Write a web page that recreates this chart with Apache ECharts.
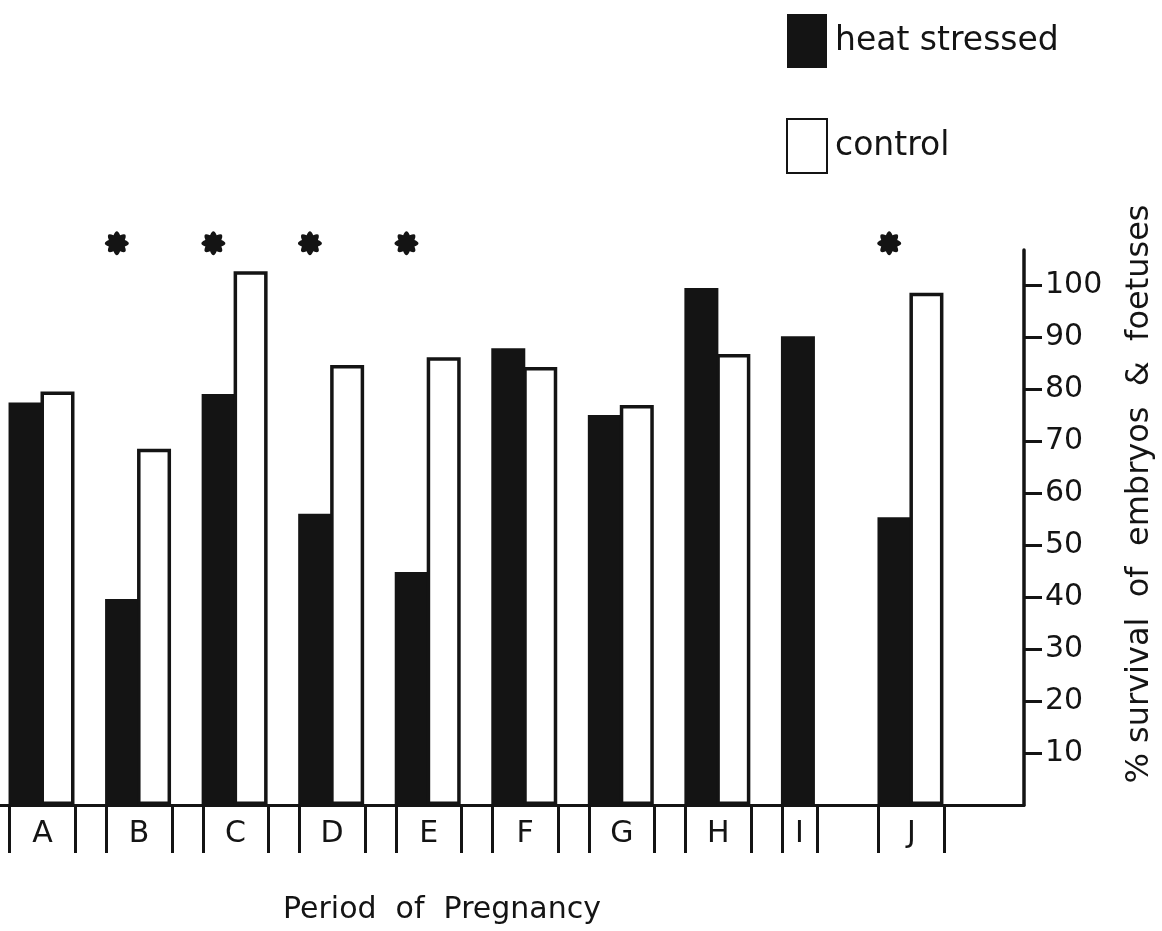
<!DOCTYPE html>
<html>
<head>
<meta charset="utf-8">
<script src="https://cdn.jsdelivr.net/npm/echarts@6/dist/echarts.min.js"></script>
<style>
  html, body { margin: 0; padding: 0; background: #ffffff; }
  #chart { width: 1162px; height: 931px; }
</style>
</head>
<body>
<div id="chart"></div>
<script>
// Survival of embryos and foetuses, heat stressed vs control, by period of pregnancy
const periods = ['A', 'B', 'C', 'D', 'E', 'F', 'G', 'H', 'I', 'J'];
const heatStressed = [77.4, 39.6, 79.0, 56.0, 44.8, 87.8, 75.0, 99.4, 90.1, 55.3];
const control = [79.5, 68.5, 102.6, 84.6, 86.1, 84.2, 76.9, 86.7, null, 98.5];
const significant = [false, true, true, true, true, false, false, false, false, true];
const yTicks = [10, 20, 30, 40, 50, 60, 70, 80, 90, 100];

const INK = '#141414';
const FONT = 'DejaVu Sans';

// each period is bracketed by two short rules below the baseline
const bracketLo = -0.33;
const bracketHi = i => (control[i] == null ? 0.03 : 0.35);
const bracketTicks = [];
const labelPos = [];
periods.forEach((p, i) => {
  bracketTicks.push(i + bracketLo, i + bracketHi(i));
  labelPos.push(i + (bracketLo + bracketHi(i)) / 2);
});

// eight-lobed asterisk used to flag significant differences
function asteriskPath() {
  let d = '';
  const n = 8;
  for (let k = 0; k < n; k++) {
    const a0 = (k * 2 * Math.PI) / n - Math.PI / 2;
    const a1 = a0 + Math.PI / n;
    const ri = 0.62;
    const ix = (Math.cos(a0 - Math.PI / n) * ri).toFixed(3);
    const iy = (Math.sin(a0 - Math.PI / n) * ri).toFixed(3);
    const ox = (Math.cos(a0) * 1.15).toFixed(3);
    const oy = (Math.sin(a0) * 1.15).toFixed(3);
    const jx = (Math.cos(a1) * ri).toFixed(3);
    const jy = (Math.sin(a1) * ri).toFixed(3);
    d += (k === 0 ? 'M' + ix + ' ' + iy + ' ' : '') + 'Q' + ox + ' ' + oy + ' ' + jx + ' ' + jy + ' ';
  }
  return 'path://' + d + 'Z';
}
const starLevel = 108;
const starOffset = -0.22;

const chart = echarts.init(document.getElementById('chart'), null, { renderer: 'canvas' });

chart.setOption({
  backgroundColor: '#ffffff',
  animation: false,
  textStyle: { fontFamily: FONT, color: INK },
  grid: {
    left: 0, right: 138, top: 250, bottom: 126,
    containLabel: false,
    outerBoundsMode: 'none'
  },
  legend: {
    orient: 'vertical',
    left: 781,
    top: 9,
    itemWidth: 40,
    itemHeight: 54,
    itemGap: 50,
    icon: 'rect',
    selectedMode: false,
    data: ['heat stressed', 'control'],
    textStyle: { fontSize: 33, color: INK, fontFamily: FONT, padding: [0, 0, 0, 3] }
  },
  xAxis: {
    type: 'value',
    min: -0.43,
    max: 10.176,
    position: 'bottom',
    axisLine: { show: true, onZero: false, lineStyle: { color: INK, width: 3 } },
    axisTick: {
      show: true, inside: false, length: 48,
      customValues: bracketTicks,
      lineStyle: { color: INK, width: 3 }
    },
    axisLabel: {
      show: true,
      customValues: labelPos,
      formatter: v => periods[Math.round(v)] || '',
      fontSize: 30, margin: 14, color: INK, fontFamily: FONT
    },
    splitLine: { show: false }
  },
  yAxis: {
    type: 'value',
    position: 'right',
    min: 0,
    max: 106.7,
    axisLine: { show: true, onZero: false, lineStyle: { color: INK, width: 3.5 } },
    axisTick: {
      show: true, inside: false, length: 18,
      customValues: yTicks,
      lineStyle: { color: INK, width: 3 }
    },
    axisLabel: {
      show: true,
      customValues: yTicks,
      fontSize: 30, margin: 21, color: INK, fontFamily: FONT
    },
    splitLine: { show: false }
  },
  series: [
    {
      name: 'heat stressed',
      type: 'bar',
      barWidth: 34,
      barGap: '-6%',
      itemStyle: { color: INK },
      data: heatStressed.map((v, i) => [i, v])
    },
    {
      name: 'control',
      type: 'bar',
      barWidth: 34,
      barGap: '-6%',
      itemStyle: { color: '#ffffff', borderColor: INK, borderWidth: 3.5 },
      data: control.map((v, i) => [i, v]).filter(d => d[1] != null)
    },
    {
      name: 'significance',
      type: 'scatter',
      clip: false,
      symbol: asteriskPath(),
      symbolSize: 24,
      itemStyle: { color: INK, opacity: 1 },
      silent: true,
      data: significant.map((s, i) => (s ? [i + starOffset, starLevel] : null)).filter(Boolean)
    }
  ],
  graphic: [
    {
      type: 'text',
      x: 442, y: 910,
      style: {
        text: 'Period  of  Pregnancy',
        fontSize: 30, fontFamily: FONT, fill: INK,
        align: 'center', verticalAlign: 'middle'
      }
    },
    {
      type: 'text',
      x: 1140, y: 494,
      rotation: Math.PI / 2,
      style: {
        text: '% survival  of  embryos  &  foetuses',
        fontSize: 32, fontFamily: FONT, fill: INK,
        align: 'center', verticalAlign: 'middle'
      }
    }
  ]
});
</script>
</body>
</html>
